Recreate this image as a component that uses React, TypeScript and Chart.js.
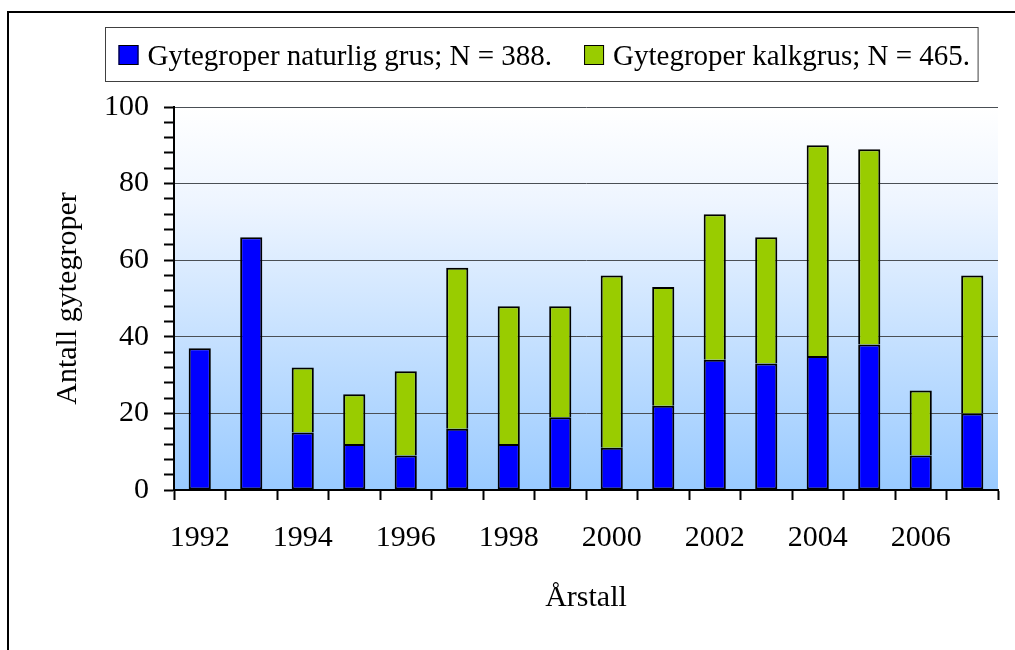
import React, { useEffect, useRef } from "react";
import { Chart, registerables } from "chart.js";

Chart.register(...registerables);

const years = ["1992", "1993", "1994", "1995", "1996", "1997", "1998", "1999", "2000", "2001", "2002", "2003", "2004", "2005", "2006", "2007"];
const naturligGrus = [37, 66, 15, 12, 9, 16, 12, 19, 11, 22, 34, 33, 35, 38, 9, 20];
const kalkGrus = [0, 0, 17, 13, 22, 42, 36, 29, 45, 31, 38, 33, 55, 51, 17, 36];
const seriesLabels = ["Gytegroper naturlig grus; N = 388.", "Gytegroper kalkgrus; N = 465."];
const yTitle = "Antall gytegroper";
const xTitle = "Årstall";

const FONT = '"Liberation Serif", "Times New Roman", serif';

const frameAndBackground = {
  id: "frameAndBackground",
  beforeDraw(chart: any) {
    const { ctx, chartArea } = chart;
    ctx.save();
    ctx.strokeStyle = "#000";
    ctx.lineWidth = 2;
    ctx.strokeRect(8, 12, 2000, 2000);
    const g = ctx.createLinearGradient(0, chartArea.top, 0, chartArea.bottom);
    g.addColorStop(0, "#ffffff");
    g.addColorStop(0.25, "#eef5ff");
    g.addColorStop(1, "#99caff");
    ctx.fillStyle = g;
    ctx.fillRect(chartArea.left, chartArea.top, chartArea.right - chartArea.left, chartArea.bottom - chartArea.top);
    ctx.restore();
  },
};

const boxedLegend = {
  id: "boxedLegend",
  afterDraw(chart: any) {
    const ctx = chart.ctx;
    ctx.save();
    ctx.font = "29px " + FONT;
    const items = chart.data.datasets.map((ds: any) => ({
      label: ds.label,
      color: ds.backgroundColor,
      w: ctx.measureText(ds.label).width,
    }));
    const sq = 20, gap = 9, itemGap = 32, padL = 13, padR = 8;
    const total = items.reduce((s: number, it: any) => s + sq + gap + it.w, 0) + itemGap * (items.length - 1);
    const boxW = padL + total + padR;
    const cx = 541;
    const boxL = Math.round(cx - boxW / 2) + 0.5;
    const top = 27.5, h = 54;
    ctx.strokeStyle = "#404040";
    ctx.lineWidth = 1;
    ctx.strokeRect(boxL, top, boxW, h);
    let x = boxL + padL;
    ctx.textBaseline = "alphabetic";
    ctx.textAlign = "left";
    items.forEach((it: any) => {
      ctx.fillStyle = it.color;
      ctx.fillRect(x, 45, sq, sq);
      ctx.strokeStyle = "#000";
      ctx.strokeRect(x + 0.5, 45.5, sq - 1, sq - 1);
      x += sq + gap;
      ctx.fillStyle = "#000";
      ctx.fillText(it.label, x, 65);
      x += it.w + itemGap;
    });
    ctx.restore();
  },
};

export default function App() {
  const ref = useRef<HTMLCanvasElement>(null);
  useEffect(() => {
    if (!ref.current) return;
    const chart = new Chart(ref.current, {
      type: "bar",
      data: {
        labels: years,
        datasets: [
          {
            label: seriesLabels[0],
            data: naturligGrus,
            backgroundColor: "#0000ff",
            borderColor: "#000",
            borderWidth: 2,
            borderSkipped: false,
            barPercentage: 0.43,
            categoryPercentage: 1,
          },
          {
            label: seriesLabels[1],
            data: kalkGrus.map((v) => (v === 0 ? null : v)),
            backgroundColor: "#99cc00",
            borderColor: "#000",
            borderWidth: 2,
            borderSkipped: "start",
            barPercentage: 0.43,
            categoryPercentage: 1,
          },
        ],
      },
      options: {
        responsive: false,
        animation: false,
        layout: { padding: { left: 40, right: 17, top: 107, bottom: 30 } },
        plugins: {
          legend: { display: false },
          tooltip: { enabled: false },
        },
        scales: {
          x: {
            stacked: true,
            afterFit: (s: any) => { s.height = 130; },
            border: { display: true, color: "#000", width: 2 },
            grid: { drawOnChartArea: false, drawTicks: true, tickLength: 10, tickColor: "#000", tickWidth: 2, offset: true },
            ticks: {
              autoSkip: false,
              maxRotation: 0,
              padding: 20,
              color: "#000",
              font: { family: FONT, size: 30 },
              callback: (_v: any, i: number) => (i % 2 === 0 ? years[i] : ""),
            },
            title: { display: true, text: xTitle, color: "#000", font: { family: FONT, size: 30 }, padding: { top: 0, bottom: 4 } },
          },
          y: {
            stacked: true,
            min: 0,
            max: 100,
            afterFit: (s: any) => { s.width = 134; },
            border: { display: true, color: "#000", width: 2 },
            grid: {
              color: (c: any) => (c.tick && c.tick.value % 20 === 0 && c.tick.value !== 0 ? "#4a4f55" : "rgba(0,0,0,0)"),
              lineWidth: 1,
              drawTicks: true,
              tickLength: 10,
              tickColor: "#000",
              tickWidth: 2,
            },
            ticks: {
              stepSize: 4,
              autoSkip: false,
              padding: 15,
              color: "#000",
              font: { family: FONT, size: 30 },
              callback: (v: any) => (Number(v) % 20 === 0 ? String(v) : ""),
            },
            title: { display: true, text: yTitle, color: "#000", font: { family: FONT, size: 30 }, padding: { top: 10, bottom: 0 } },
          },
        },
      },
      plugins: [frameAndBackground, boxedLegend],
    });
    return () => chart.destroy();
  }, []);
  return (
    <div style={{ position: "fixed", left: 0, top: 0, width: 1015, height: 650, background: "#fff" }}>
      <canvas ref={ref} width={1015} height={650} style={{ display: "block" }} />
    </div>
  );
}
